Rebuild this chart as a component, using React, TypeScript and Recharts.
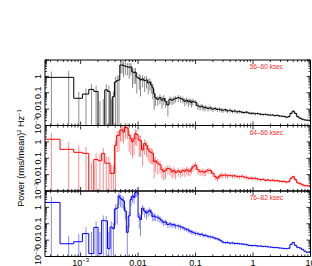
import React from "react";
import { LineChart, Line, XAxis, YAxis, ErrorBar } from "recharts";

const W = 312;
const H = 266;
const FONT = "'Liberation Sans', Arial, Helvetica, sans-serif";

// bin frequencies (Hz): linear bins at low f, then rebinned
const lowFreq = [3.1e-4, 6.2e-4, 9.3e-4, 1.24e-3, 1.55e-3, 1.86e-3, 2.17e-3, 2.48e-3, 2.79e-3, 3.1e-3, 3.41e-3, 3.72e-3, 4.03e-3, 4.34e-3, 4.65e-3, 4.96e-3, 5.27e-3, 5.58e-3];
const hiFreq = [
  0.006, 0.0065, 0.007, 0.0075, 0.008, 0.0085, 0.009, 0.0095,
  0.0105, 0.011, 0.012, 0.013, 0.014, 0.015, 0.016, 0.017, 0.018, 0.019,
  0.02, 0.022, 0.024, 0.026, 0.028, 0.03, 0.033, 0.036, 0.039, 0.042, 0.045,
  0.05, 0.055, 0.06, 0.065, 0.07, 0.075, 0.08, 0.085, 0.09,
  0.1, 0.11, 0.12, 0.13, 0.14, 0.15, 0.165, 0.18,
  0.2, 0.22, 0.24, 0.26, 0.28, 0.3, 0.33, 0.36,
  0.4, 0.44, 0.48, 0.53, 0.58, 0.64, 0.7, 0.77, 0.85, 0.93,
  1.0, 1.1, 1.2, 1.35, 1.5, 1.65, 1.8,
  2.0, 2.2, 2.4, 2.65, 2.9,
  3.2, 3.5, 3.85, 4.2, 4.6,
  5.0, 5.5, 6.0, 6.6, 7.3, 8.0, 8.8, 9.6,
];
const freq = [...lowFreq, ...hiFreq];
const FIRST_EDGE = 1.6e-4; // left edge of the first bin (off the axis)

// 56-60 ksec
const power5660 = [
  0.87, 0.87, 0.046, 0.083, 0.16, 0.12, 0.0005, 0.0005, 0.15, 0.12, 0.0005, 0.057, 0.45, 0.55, 0.6, 4.9, 5.0, 4.5,
  4.2, 3.8, 3.6, 3.8, 1.9, 1.7, 1.8, 0.9,
  0.75, 0.6, 0.7, 0.55, 0.6, 0.4, 0.45, 0.3, 0.2, 0.09,
  0.05, 0.04, 0.05, 0.035, 0.045, 0.03, 0.018, 0.04, 0.035, 0.04, 0.045,
  0.05, 0.045, 0.04, 0.03, 0.035, 0.028, 0.032, 0.025, 0.03,
  0.026, 0.016, 0.014, 0.015, 0.012, 0.013, 0.011, 0.012,
  0.01, 0.011, 0.0095, 0.01, 0.009, 0.0085, 0.0092, 0.0078,
  0.0085, 0.0072, 0.0078, 0.0068, 0.0072, 0.0065, 0.0062, 0.0066, 0.0058, 0.0055,
  0.0056, 0.0052, 0.0054, 0.0049, 0.0047, 0.0048, 0.0045,
  0.0043, 0.0044, 0.004, 0.0042, 0.0038,
  0.0037, 0.0036, 0.0032, 0.0035, 0.0055,
  0.0075, 0.0055, 0.0035, 0.0028, 0.0024, 0.0022, 0.0021, 0.0021,
];
const relErr5660 = [
  1.3, 1.5, 1.4, 1.2, 1.1, 1.2, 60, 80, 1.2, 1.3, 80, 1.1, 1.0, 1.0, 1.0, 0.7, 0.7, 0.8,
  0.7, 0.7, 0.8, 0.7, 0.9, 0.8, 0.8, 0.9,
  0.8, 0.9, 0.7, 0.8, 0.7, 0.8, 0.7, 0.7, 0.8, 0.9,
  0.7, 0.6, 0.6, 0.7, 0.6, 0.6, 0.8, 0.5, 0.5, 0.5, 0.45,
  0.45, 0.45, 0.45, 0.5, 0.45, 0.5, 0.45, 0.5, 0.45,
  0.4, 0.45, 0.4, 0.4, 0.4, 0.35, 0.35, 0.35,
  0.35, 0.3, 0.3, 0.3, 0.3, 0.3, 0.28, 0.28,
  0.28, 0.25, 0.25, 0.25, 0.25, 0.22, 0.22, 0.22, 0.2, 0.2,
  0.2, 0.2, 0.18, 0.18, 0.18, 0.16, 0.16,
  0.16, 0.15, 0.15, 0.15, 0.15,
  0.15, 0.15, 0.15, 0.15, 0.15,
  0.15, 0.15, 0.15, 0.15, 0.15, 0.15, 0.15, 0.15,
];

// 64-66 ksec
const power6466 = [
  1.45, 0.35, 0.23, 0.2, 0.0005, 0.085, 0.07, 0.2, 0.05, 0.05, 0.012, 0.012, 0.6, 2.4, 2.5, 5.2, 5.5, 4.0,
  8, 7, 2.5, 1.6, 1.0, 1.5, 3.3, 2.8,
  1.3, 1.2, 0.32, 0.8, 0.6, 0.35, 0.25, 0.22, 0.2, 0.06,
  0.07, 0.05, 0.04, 0.02, 0.015, 0.018, 0.024, 0.022, 0.015, 0.018, 0.013,
  0.017, 0.014, 0.018, 0.016, 0.02, 0.017, 0.016, 0.022, 0.03,
  0.038, 0.02, 0.015, 0.016, 0.014, 0.015, 0.019, 0.018,
  0.012, 0.0075, 0.006, 0.008, 0.0095, 0.009, 0.0095, 0.0085,
  0.009, 0.0082, 0.0085, 0.0078, 0.0075, 0.008, 0.0072, 0.0068, 0.006, 0.0062,
  0.0058, 0.006, 0.0055, 0.0049, 0.0052, 0.0045, 0.0048,
  0.0044, 0.0046, 0.0042, 0.0043, 0.004,
  0.0038, 0.0039, 0.0035, 0.0038, 0.006,
  0.0075, 0.005, 0.0032, 0.0028, 0.0024, 0.0021, 0.0021, 0.0021,
];
const relErr6466 = [
  1.5, 1.8, 1.6, 1.5, 100, 1.3, 1.4, 1.2, 1.5, 1.5, 2, 2, 1.0, 0.9, 0.9, 0.8, 0.8, 0.8,
  0.8, 0.8, 0.9, 0.9, 0.9, 0.9, 0.8, 0.8,
  0.9, 0.9, 0.9, 0.8, 0.8, 0.8, 0.8, 0.8, 0.8, 0.9,
  0.8, 0.8, 0.7, 0.7, 0.7, 0.7, 0.6, 0.6, 0.6, 0.6, 0.6,
  0.55, 0.55, 0.55, 0.55, 0.5, 0.5, 0.5, 0.5, 0.5,
  0.5, 0.5, 0.45, 0.45, 0.45, 0.45, 0.4, 0.4,
  0.4, 0.4, 0.4, 0.35, 0.35, 0.35, 0.35, 0.35,
  0.3, 0.3, 0.3, 0.3, 0.3, 0.28, 0.28, 0.28, 0.25, 0.25,
  0.25, 0.25, 0.22, 0.22, 0.22, 0.2, 0.2,
  0.2, 0.2, 0.2, 0.2, 0.2,
  0.2, 0.2, 0.2, 0.2, 0.2,
  0.2, 0.2, 0.2, 0.2, 0.2, 0.2, 0.2, 0.2,
];

// 76-82 ksec
const power7682 = [
  2.0, 0.006, 0.008, 0.025, 0.0015, 0.06, 0.0015, 0.16, 0.15, 0.003, 0.063, 0.05, 0.8, 0.9, 5.0, 3.5, 3.0, 2.5,
  0.6, 0.03, 0.3, 3.0, 5.0, 4.0, 8.0, 9.0,
  0.25, 0.18, 0.9, 0.6, 0.45, 0.55, 0.65, 0.5, 0.28, 0.3,
  0.26, 0.25, 0.2, 0.15, 0.12, 0.13, 0.09, 0.1, 0.085, 0.09, 0.075,
  0.075, 0.065, 0.06, 0.05, 0.045, 0.042, 0.035, 0.033, 0.03,
  0.026, 0.025, 0.022, 0.023, 0.019, 0.02, 0.017, 0.016,
  0.015, 0.013, 0.012, 0.0105, 0.009, 0.0075, 0.007, 0.0072,
  0.0065, 0.0068, 0.0062, 0.0063, 0.006, 0.0058, 0.0056, 0.0053, 0.0048, 0.0047,
  0.0046, 0.0047, 0.0043, 0.0044, 0.0041, 0.0042, 0.0039,
  0.0038, 0.0036, 0.0035, 0.0035, 0.0033,
  0.0032, 0.0031, 0.003, 0.0032, 0.0055,
  0.0072, 0.0048, 0.0036, 0.0033, 0.0027, 0.0021, 0.0018, 0.0018,
];
const relErr7682 = [
  1.2, 2, 2, 1.5, 20, 1.3, 20, 1.0, 1.0, 10, 1.2, 1.2, 0.9, 0.9, 0.7, 0.7, 0.7, 0.7,
  0.7, 1.5, 0.8, 0.6, 0.6, 0.6, 0.5, 0.5,
  0.8, 0.9, 0.6, 0.6, 0.6, 0.5, 0.5, 0.5, 0.5, 0.5,
  0.45, 0.45, 0.45, 0.4, 0.4, 0.4, 0.4, 0.4, 0.35, 0.35, 0.35,
  0.35, 0.35, 0.3, 0.3, 0.3, 0.3, 0.3, 0.3, 0.3,
  0.3, 0.28, 0.28, 0.28, 0.25, 0.25, 0.25, 0.25,
  0.25, 0.22, 0.22, 0.22, 0.2, 0.2, 0.2, 0.2,
  0.2, 0.2, 0.18, 0.18, 0.18, 0.16, 0.16, 0.16, 0.15, 0.15,
  0.15, 0.14, 0.14, 0.14, 0.13, 0.13, 0.13,
  0.12, 0.12, 0.12, 0.12, 0.12,
  0.12, 0.12, 0.12, 0.12, 0.12,
  0.12, 0.12, 0.12, 0.12, 0.12, 0.12, 0.12, 0.12,
];

const xMajor = [1e-3, 0.01, 0.1, 1, 10];
const yMajor = [1e-3, 0.01, 0.1, 1, 10];
const yLabelled = [1e-3, 0.01, 0.1, 1];
const X_MIN = 2.4e-4;
const X_MAX = 10;
const Y_MIN = 1e-3;
const Y_MAX = 10;

function withMinor(majors: number[], lo: number, hi: number) {
  const out: number[] = [];
  [majors[0] / 10, ...majors].forEach((m) => {
    for (let k = 1; k < 10; k++) {
      const v = +(m * k).toPrecision(6);
      if (v >= lo * 0.9999 && v <= hi * 1.0001) out.push(v);
    }
  });
  return out;
}
const xTicks = withMinor(xMajor, X_MIN, X_MAX);
const yTicks = withMinor(yMajor, Y_MIN, Y_MAX);

const isMajor = (v: number) => Math.abs(Math.log10(v) - Math.round(Math.log10(v))) < 1e-6;

function tickText(v: number) {
  if (Math.abs(v - 1e-3) < 1e-9)
    return (
      <>
        10<tspan dy={-3.5} fontSize={6}>−3</tspan>
      </>
    );
  return String(v);
}

function buildRows(power: number[], rel: number[]) {
  const rows = freq.map((f, i) => {
    const p = power[i];
    const lo = Math.max(p * (1 - rel[i]), Y_MIN);
    const hi = p * (1 + rel[i]);
    return { f, p, err: [p - lo, hi - p] };
  });
  rows.unshift({ f: FIRST_EDGE, p: power[0], err: [0, 0] });
  return rows;
}

function XTick(props: any) {
  const { x, y, payload, dir, label } = props;
  const v = payload.value;
  const major = isMajor(v);
  const len = major ? 4 : 2;
  return (
    <g>
      <line x1={x} x2={x} y1={y} y2={y + dir * len} stroke="#000" strokeWidth={0.8} />
      {label && major && (
        <text x={x} y={y + 9} textAnchor="middle" fontSize={9} fontFamily={FONT} fill="#000">
          {tickText(v)}
        </text>
      )}
    </g>
  );
}

function YTick(props: any) {
  const { x, y, payload, dir, label } = props;
  const v = payload.value;
  const major = isMajor(v);
  const len = major ? 4 : 2;
  const tx = 38;
  return (
    <g>
      <line x1={x} x2={x + dir * len} y1={y} y2={y} stroke="#000" strokeWidth={0.8} />
      {label && yLabelled.includes(v) && (
        <text x={tx} y={y} dy="0.35em" transform={`rotate(-90 ${tx} ${y})`} textAnchor="middle" fontSize={9} fontFamily={FONT} fill="#000">
          {tickText(v)}
        </text>
      )}
    </g>
  );
}

interface PanelProps {
  power: number[];
  rel: number[];
  color: string;
  errColor: string;
  top: number;
  bottom: number;
  showX: boolean;
}

function Panel({ power, rel, color, errColor, top, bottom, showX }: PanelProps) {
  const rows = buildRows(power, rel);
  const hb = showX ? H - bottom : 1;
  return (
    <div style={{ position: "absolute", left: 0, top: 0 }}>
      <LineChart width={W} height={H} data={rows} margin={{ top: top - 1, right: 0.5, bottom: H - bottom - hb, left: 0 }}>
        <XAxis xAxisId="b" dataKey="f" type="number" scale="log" domain={[X_MIN, X_MAX]} allowDataOverflow ticks={xTicks} interval={0}
          height={hb} tickSize={0} tickMargin={0} tickLine={false} stroke="#000"
          tick={(p: any) => <XTick {...p} dir={-1} label={showX} />} />
        <XAxis xAxisId="t" orientation="top" dataKey="f" type="number" scale="log" domain={[X_MIN, X_MAX]} allowDataOverflow ticks={xTicks} interval={0}
          height={1} tickSize={0} tickMargin={0} tickLine={false} stroke="#000"
          tick={(p: any) => <XTick {...p} dir={1} label={false} />} />
        <YAxis yAxisId="l" type="number" scale="log" domain={[Y_MIN, Y_MAX]} allowDataOverflow ticks={yTicks} interval={0}
          width={45} tickSize={0} tickMargin={0} tickLine={false} stroke="#000"
          tick={(p: any) => <YTick {...p} dir={1} label={true} />} />
        <YAxis yAxisId="r" orientation="right" type="number" scale="log" domain={[Y_MIN, Y_MAX]} allowDataOverflow ticks={yTicks} interval={0}
          width={1} tickSize={0} tickMargin={0} tickLine={false} stroke="#000"
          tick={(p: any) => <YTick {...p} dir={-1} label={false} />} />
        <Line xAxisId="b" yAxisId="l" dataKey="p" type="step" stroke={color} strokeWidth={1} dot={false} activeDot={false} isAnimationActive={false}>
          <ErrorBar dataKey="err" width={0} stroke={errColor} strokeWidth={1} direction="y" isAnimationActive={false} />
        </Line>
      </LineChart>
    </div>
  );
}

const panelLabels = ["56–60 ksec", "64–66 ksec", "76–82 ksec"];
const panelTops = [60, 125.5, 191];
const panelBottoms = [125.5, 191, 256.5];

export default function App() {
  return (
    <div style={{ position: "absolute", left: 0, top: 0, width: W, height: H, background: "#fff", overflow: "hidden" }}>
      <Panel power={power5660} rel={relErr5660} color="#000000" errColor="#8c8c8c" top={panelTops[0]} bottom={panelBottoms[0]} showX={false} />
      <Panel power={power6466} rel={relErr6466} color="#ff0000" errColor="#ff8a8a" top={panelTops[1]} bottom={panelBottoms[1]} showX={false} />
      <Panel power={power7682} rel={relErr7682} color="#0000ff" errColor="#8a8aff" top={panelTops[2]} bottom={panelBottoms[2]} showX={true} />
      <svg width={W} height={H} style={{ position: "absolute", left: 0, top: 0, pointerEvents: "none" }}>
        <text transform="rotate(-90)" x={-158} y={21} dy="0.35em" textAnchor="middle" fontSize={9} fontFamily={FONT} fill="#000">
          Power (rms/mean)<tspan dy={-3} fontSize={6}>2</tspan>
          <tspan dy={3}> Hz</tspan>
          <tspan dy={-3} fontSize={6}>−1</tspan>
        </text>
        {panelLabels.map((t, i) => (
          <text key={t} x={283} y={panelTops[i] + 9} textAnchor="end" fontSize={6.5} fontFamily={FONT} fill="#ff2a2a">
            {t}
          </text>
        ))}
      </svg>
    </div>
  );
}
